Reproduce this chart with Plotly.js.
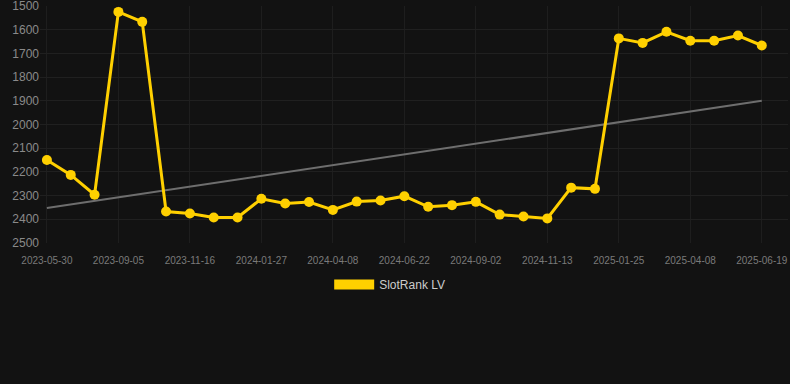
<!DOCTYPE html>
<html>
<head>
<meta charset="utf-8">
<script src="https://cdn.plot.ly/plotly-3.0.1.min.js"></script>
<style>
html,body{margin:0;padding:0;background:#121212;}
#chart{width:790px;height:384px;}
</style>
</head>
<body>
<div id="chart"></div>
<script>
const dates = [
  "2023-05-30","2023-06-29","2023-07-31","2023-09-05","2023-09-29","2023-10-23",
  "2023-11-16","2023-12-10","2024-01-03","2024-01-27","2024-02-20","2024-03-15",
  "2024-04-08","2024-05-03","2024-05-28","2024-06-22","2024-07-16","2024-08-09",
  "2024-09-02","2024-09-26","2024-10-20","2024-11-13","2024-12-07","2024-12-31",
  "2025-01-25","2025-02-18","2025-03-15","2025-04-08","2025-05-02","2025-05-26",
  "2025-06-19"
];
const rank = [
  2150, 2213, 2297, 1524, 1566, 2368,
  2376, 2393, 2393, 2314, 2334, 2328,
  2361, 2326, 2321, 2303, 2348, 2341,
  2327, 2381, 2389, 2397, 2267, 2272,
  1636, 1655, 1608, 1646, 1646, 1624,
  1666
];
const tickDates = ["2023-05-30","2023-09-05","2023-11-16","2024-01-27","2024-04-08","2024-06-22",
  "2024-09-02","2024-11-13","2025-01-25","2025-04-08","2025-06-19"];
const trendX = ["2023-05-30","2025-06-19"];
const trendY = [2353, 1900];
const yTicks = [1500,1600,1700,1800,1900,2000,2100,2200,2300,2400,2500];
const seriesName = "SlotRank LV";

const yellow = "#FFD000";
const traces = [
  {
    x: trendX, y: trendY, type: "scatter", mode: "lines",
    line: {color: "#6e6e6e", width: 2}, showlegend: false, hoverinfo: "skip"
  },
  {
    x: dates, y: rank, type: "scatter", mode: "lines+markers",
    line: {color: yellow, width: 3},
    marker: {color: yellow, size: 10},
    showlegend: false, name: seriesName
  },
  {
    x: [null], y: [null], type: "scatter", mode: "lines",
    line: {color: yellow, width: 12}, name: seriesName, showlegend: true
  }
];

const layout = {
  width: 790, height: 384,
  paper_bgcolor: "#121212", plot_bgcolor: "#121212",
  margin: {l: 40, r: 2, t: 6, b: 141},
  font: {family: "Liberation Sans, Arial, sans-serif", color: "#888"},
  xaxis: {
    type: "category", categoryorder: "array", categoryarray: dates,
    range: [-0.29, 31.1],
    tickmode: "array", tickvals: tickDates, ticktext: tickDates,
    tickfont: {size: 10, color: "#7a7a7a"},
    showgrid: true, gridcolor: "#1e1e1e", zeroline: false, showline: false,
    ticks: "outside", ticklen: 8, tickcolor: "rgba(0,0,0,0)"
  },
  yaxis: {
    range: [2501, 1499], tickmode: "array", tickvals: yTicks,
    tickfont: {size: 12, color: "#8a8a8a"},
    showgrid: true, gridcolor: "#202020", zeroline: false, showline: false,
    ticks: "", ticklen: 0, ticklabeloverflow: "allow"
  },
  showlegend: true,
  legend: {
    orientation: "h", x: 0.4675, xanchor: "center", y: -0.175, yanchor: "middle",
    itemwidth: 40,
    font: {size: 12, color: "#cccccc"}, bgcolor: "rgba(0,0,0,0)"
  }
};

Plotly.newPlot("chart", traces, layout, {displayModeBar: false, staticPlot: true});
</script>
</body>
</html>
